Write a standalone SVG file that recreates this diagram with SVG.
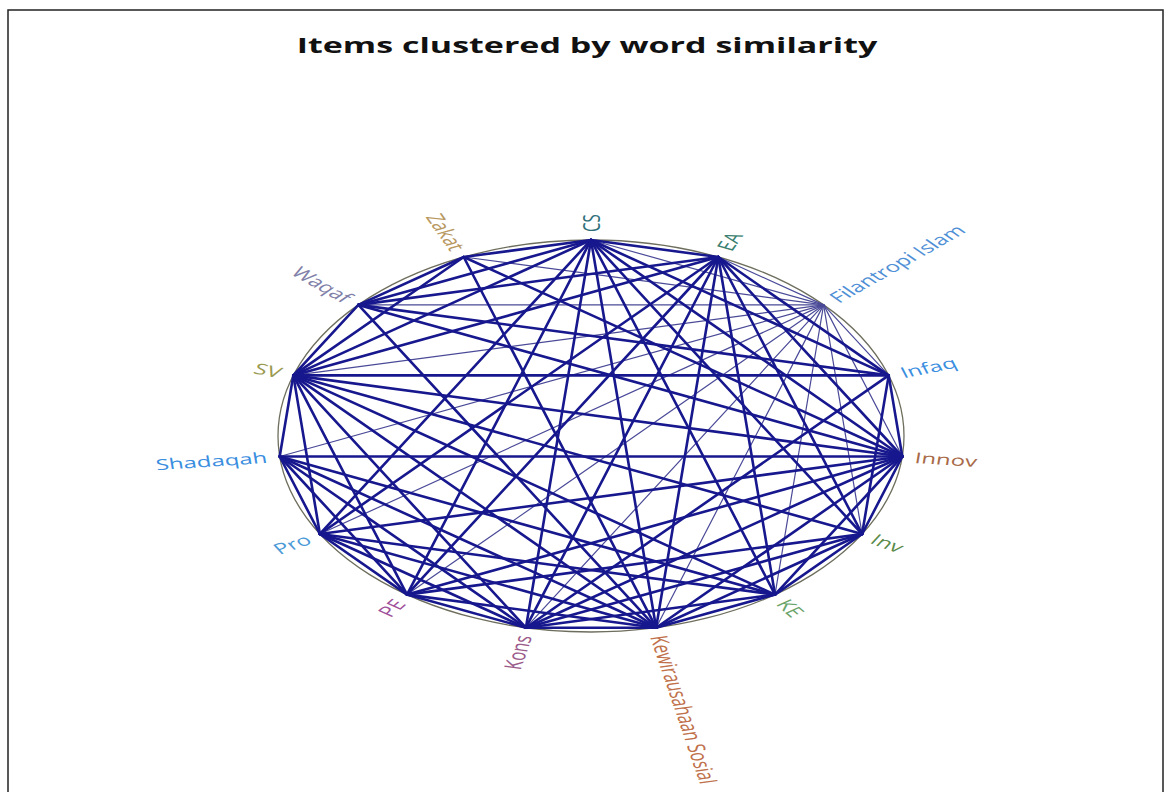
<svg xmlns="http://www.w3.org/2000/svg" width="1169" height="792" viewBox="0 0 1169 792">
<style>
.frame{fill:none;stroke:#222;stroke-width:1.5}
.title{font-family:"Open Sans","Liberation Sans",sans-serif;font-weight:bold;font-size:21px;fill:#111;text-anchor:middle}
.rim{fill:none;stroke:#6e6e5e;stroke-width:1.3}
.e line{stroke:#17178e;stroke-width:2.6;stroke-linecap:round}
.e line.t{stroke:#4a4a98;stroke-width:1.2}
.lbl{font-family:"Open Sans","Liberation Sans",sans-serif;font-size:15px;dominant-baseline:central}
.r{text-anchor:start}
.l{text-anchor:end}
</style>
<rect width="1169" height="792" fill="#fff"/>
<path class="frame" d="M8,792 V10 H1163 V792"/>
<text class="title" transform="translate(587,53) scale(1.62,1)">Items clustered by word similarity</text>
<ellipse class="rim" cx="591" cy="436" rx="313" ry="196"/>
<g id="connectors" class="e">
<line class="t" x1="591" y1="240" x2="823.6" y2="304.9"/>
<line class="t" x1="718.3" y1="257" x2="823.6" y2="304.9"/>
<line class="t" x1="823.6" y1="304.9" x2="888.7" y2="375.4"/>
<line class="t" x1="823.6" y1="304.9" x2="902.3" y2="456.5"/>
<line class="t" x1="823.6" y1="304.9" x2="862.1" y2="534"/>
<line class="t" x1="823.6" y1="304.9" x2="775" y2="594.6"/>
<line class="t" x1="823.6" y1="304.9" x2="656.1" y2="627.7"/>
<line class="t" x1="823.6" y1="304.9" x2="525.9" y2="627.7"/>
<line class="t" x1="823.6" y1="304.9" x2="407" y2="594.6"/>
<line class="t" x1="823.6" y1="304.9" x2="319.9" y2="534"/>
<line class="t" x1="823.6" y1="304.9" x2="279.7" y2="456.5"/>
<line class="t" x1="823.6" y1="304.9" x2="293.3" y2="375.4"/>
<line class="t" x1="823.6" y1="304.9" x2="358.4" y2="304.9"/>
<line class="t" x1="823.6" y1="304.9" x2="463.7" y2="257"/>
<line x1="591" y1="240" x2="718.3" y2="257"/>
<line x1="591" y1="240" x2="888.7" y2="375.4"/>
<line x1="591" y1="240" x2="902.3" y2="456.5"/>
<line x1="591" y1="240" x2="862.1" y2="534"/>
<line x1="591" y1="240" x2="775" y2="594.6"/>
<line x1="591" y1="240" x2="656.1" y2="627.7"/>
<line x1="591" y1="240" x2="525.9" y2="627.7"/>
<line x1="591" y1="240" x2="407" y2="594.6"/>
<line x1="591" y1="240" x2="319.9" y2="534"/>
<line x1="591" y1="240" x2="293.3" y2="375.4"/>
<line x1="591" y1="240" x2="358.4" y2="304.9"/>
<line x1="591" y1="240" x2="463.7" y2="257"/>
<line x1="718.3" y1="257" x2="888.7" y2="375.4"/>
<line x1="718.3" y1="257" x2="902.3" y2="456.5"/>
<line x1="718.3" y1="257" x2="862.1" y2="534"/>
<line x1="718.3" y1="257" x2="775" y2="594.6"/>
<line x1="718.3" y1="257" x2="656.1" y2="627.7"/>
<line x1="718.3" y1="257" x2="525.9" y2="627.7"/>
<line x1="718.3" y1="257" x2="407" y2="594.6"/>
<line x1="718.3" y1="257" x2="319.9" y2="534"/>
<line x1="718.3" y1="257" x2="293.3" y2="375.4"/>
<line x1="718.3" y1="257" x2="358.4" y2="304.9"/>
<line x1="888.7" y1="375.4" x2="902.3" y2="456.5"/>
<line x1="888.7" y1="375.4" x2="862.1" y2="534"/>
<line x1="888.7" y1="375.4" x2="525.9" y2="627.7"/>
<line x1="888.7" y1="375.4" x2="293.3" y2="375.4"/>
<line x1="888.7" y1="375.4" x2="358.4" y2="304.9"/>
<line x1="902.3" y1="456.5" x2="862.1" y2="534"/>
<line x1="902.3" y1="456.5" x2="775" y2="594.6"/>
<line x1="902.3" y1="456.5" x2="656.1" y2="627.7"/>
<line x1="902.3" y1="456.5" x2="525.9" y2="627.7"/>
<line x1="902.3" y1="456.5" x2="407" y2="594.6"/>
<line x1="902.3" y1="456.5" x2="319.9" y2="534"/>
<line x1="902.3" y1="456.5" x2="279.7" y2="456.5"/>
<line x1="902.3" y1="456.5" x2="293.3" y2="375.4"/>
<line x1="902.3" y1="456.5" x2="358.4" y2="304.9"/>
<line x1="902.3" y1="456.5" x2="463.7" y2="257"/>
<line x1="862.1" y1="534" x2="775" y2="594.6"/>
<line x1="862.1" y1="534" x2="656.1" y2="627.7"/>
<line x1="862.1" y1="534" x2="525.9" y2="627.7"/>
<line x1="862.1" y1="534" x2="407" y2="594.6"/>
<line x1="862.1" y1="534" x2="293.3" y2="375.4"/>
<line x1="775" y1="594.6" x2="656.1" y2="627.7"/>
<line x1="775" y1="594.6" x2="525.9" y2="627.7"/>
<line x1="775" y1="594.6" x2="319.9" y2="534"/>
<line x1="775" y1="594.6" x2="279.7" y2="456.5"/>
<line x1="775" y1="594.6" x2="293.3" y2="375.4"/>
<line x1="656.1" y1="627.7" x2="525.9" y2="627.7"/>
<line x1="656.1" y1="627.7" x2="407" y2="594.6"/>
<line x1="656.1" y1="627.7" x2="319.9" y2="534"/>
<line x1="656.1" y1="627.7" x2="279.7" y2="456.5"/>
<line x1="656.1" y1="627.7" x2="293.3" y2="375.4"/>
<line x1="656.1" y1="627.7" x2="358.4" y2="304.9"/>
<line x1="656.1" y1="627.7" x2="463.7" y2="257"/>
<line x1="525.9" y1="627.7" x2="407" y2="594.6"/>
<line x1="525.9" y1="627.7" x2="319.9" y2="534"/>
<line x1="525.9" y1="627.7" x2="279.7" y2="456.5"/>
<line x1="525.9" y1="627.7" x2="293.3" y2="375.4"/>
<line x1="407" y1="594.6" x2="319.9" y2="534"/>
<line x1="407" y1="594.6" x2="279.7" y2="456.5"/>
<line x1="407" y1="594.6" x2="293.3" y2="375.4"/>
<line x1="319.9" y1="534" x2="279.7" y2="456.5"/>
<line x1="319.9" y1="534" x2="293.3" y2="375.4"/>
<line x1="279.7" y1="456.5" x2="293.3" y2="375.4"/>
<line x1="293.3" y1="375.4" x2="358.4" y2="304.9"/>
<line x1="293.3" y1="375.4" x2="463.7" y2="257"/>
<line x1="358.4" y1="304.9" x2="463.7" y2="257"/>
</g>
<g id="node-cs"><text class="lbl r" fill="#2f6f7a" transform="translate(591,232) scale(1.6,1) rotate(-90)">CS</text></g>
<g id="node-ea"><text class="lbl r" fill="#3a7f70" transform="translate(723.5,249.6) scale(1.6,1) rotate(-66)">EA</text></g>
<g id="node-fi"><text class="lbl r" fill="#4f8fd6" transform="translate(833.1,299.5) scale(1.6,1) rotate(-42)">Filantropi Islam</text></g>
<g id="node-infaq"><text class="lbl r" fill="#3a8ee0" transform="translate(900.9,373) scale(1.6,1) rotate(-18)">Infaq</text></g>
<g id="node-innov"><text class="lbl r" fill="#a86a48" transform="translate(915,457.3) scale(1.6,1) rotate(6)">Innov</text></g>
<g id="node-inv"><text class="lbl r" fill="#5a8a4a" transform="translate(873.2,538) scale(1.6,1) rotate(30)">Inv</text></g>
<g id="node-ke"><text class="lbl r" fill="#6aa468" transform="translate(782.5,601) scale(1.6,1) rotate(54)">KE</text></g>
<g id="node-ks"><text class="lbl r" fill="#c0704a" transform="translate(658.7,635.5) scale(1.6,1) rotate(78)">Kewirausahaan Sosial</text></g>
<g id="node-kons"><text class="lbl l" fill="#9a5a8a" transform="translate(523.3,635.5) scale(1.6,1) rotate(-78)">Kons</text></g>
<g id="node-pe"><text class="lbl l" fill="#a0509a" transform="translate(399.5,601) scale(1.6,1) rotate(-54)">PE</text></g>
<g id="node-pro"><text class="lbl l" fill="#4a9ad8" transform="translate(308.8,538) scale(1.6,1) rotate(-30)">Pro</text></g>
<g id="node-shadaqah"><text class="lbl l" fill="#3a8ee0" transform="translate(267,457.3) scale(1.6,1) rotate(-6)">Shadaqah</text></g>
<g id="node-sv"><text class="lbl l" fill="#9a9a50" transform="translate(281.1,373) scale(1.6,1) rotate(18)">SV</text></g>
<g id="node-waqaf"><text class="lbl l" fill="#8080a8" transform="translate(348.9,299.5) scale(1.6,1) rotate(42)">Waqaf</text></g>
<g id="node-zakat"><text class="lbl l" fill="#b89860" transform="translate(458.5,249.6) scale(1.6,1) rotate(66)">Zakat</text></g>
</svg>
